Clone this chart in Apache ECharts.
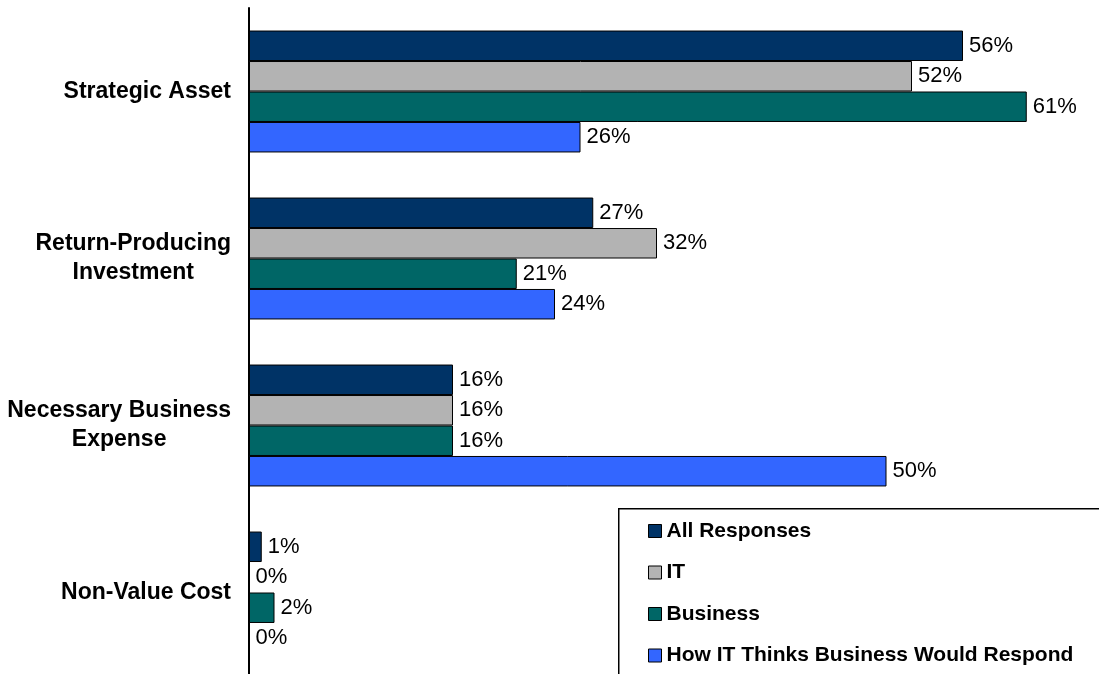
<!DOCTYPE html>
<html>
<head>
<meta charset="utf-8">
<title>IT perception survey</title>
<script src="https://cdn.jsdelivr.net/npm/echarts@6/dist/echarts.min.js"></script>
<style>
  html, body { margin: 0; padding: 0; background: #ffffff; }
  #chart { width: 1099px; height: 674px; }
</style>
</head>
<body>
<div id="chart"></div>
<script>
// Survey categories, top to bottom
const categories = [
  ['Strategic Asset'],
  ['Return-Producing', 'Investment'],
  ['Necessary Business', 'Expense'],
  ['Non-Value Cost']
];

// Share of respondents (%) per category
const allResponses = [56, 27, 16, 1];
const itResponses = [52, 32, 16, 0];
const businessResponses = [61, 21, 16, 2];
const itGuessOfBusiness = [26, 24, 50, 0];

const seriesNames = ['All Responses', 'IT', 'Business', 'How IT Thinks Business Would Respond'];
const seriesColors = ['#003366', '#B3B3B3', '#006666', '#3366FF'];
const seriesValues = [allResponses, itResponses, businessResponses, itGuessOfBusiness];

const FONT = '"Liberation Sans", Arial, sans-serif';

const chart = echarts.init(document.getElementById('chart'), null, { renderer: 'canvas' });

const series = seriesNames.map((name, i) => ({
  name: name,
  type: 'bar',
  data: seriesValues[i],
  barGap: '0%',
  barCategoryGap: '27%',
  clip: false,
  itemStyle: { color: seriesColors[i], borderColor: '#000000', borderWidth: 1 },
  label: {
    show: true,
    position: 'right',
    distance: 6,
    formatter: '{c}%',
    color: '#000000',
    fontFamily: FONT,
    fontSize: 22
  },
  emphasis: { disabled: true }
}));

chart.setOption({
  animation: false,
  backgroundColor: '#ffffff',
  grid: {
    left: 249, top: 8, width: 892.5, height: 668,
    containLabel: false,
    outerBoundsMode: 'none'
  },
  xAxis: {
    type: 'value',
    min: 0,
    max: 70,
    show: false
  },
  yAxis: {
    type: 'category',
    inverse: true,
    data: categories.map(c => c.join('\n')),
    axisLine: { show: true, lineStyle: { color: '#000000', width: 2 } },
    axisTick: { show: false },
    axisLabel: {
      margin: 18,
      align: 'right',
      formatter: v => v.split('\n').map(line => '{c|' + line + '}').join('\n'),
      rich: {
        c: {
          align: 'center',
          fontFamily: FONT,
          fontWeight: 'bold',
          fontSize: 23,
          lineHeight: 29,
          color: '#000000'
        }
      }
    }
  },
  // Frame around the legend; it runs off the right and bottom edges
  graphic: [{
    type: 'rect',
    left: 618,
    top: 508,
    silent: true,
    z: 0,
    shape: { width: 600, height: 300 },
    style: { fill: '#ffffff', stroke: '#000000', lineWidth: 1.5 }
  }],
  legend: {
    orient: 'vertical',
    left: 648,
    top: 519,
    padding: 0,
    itemWidth: 13,
    itemHeight: 13,
    itemGap: 17.5,
    icon: 'rect',
    z: 10,
    itemStyle: { borderColor: '#000000', borderWidth: 1 },
    textStyle: {
      fontFamily: FONT,
      fontWeight: 'bold',
      fontSize: 21,
      lineHeight: 24,
      color: '#000000'
    },
    data: seriesNames,
    selectedMode: false
  },
  series: series
});
</script>
</body>
</html>
